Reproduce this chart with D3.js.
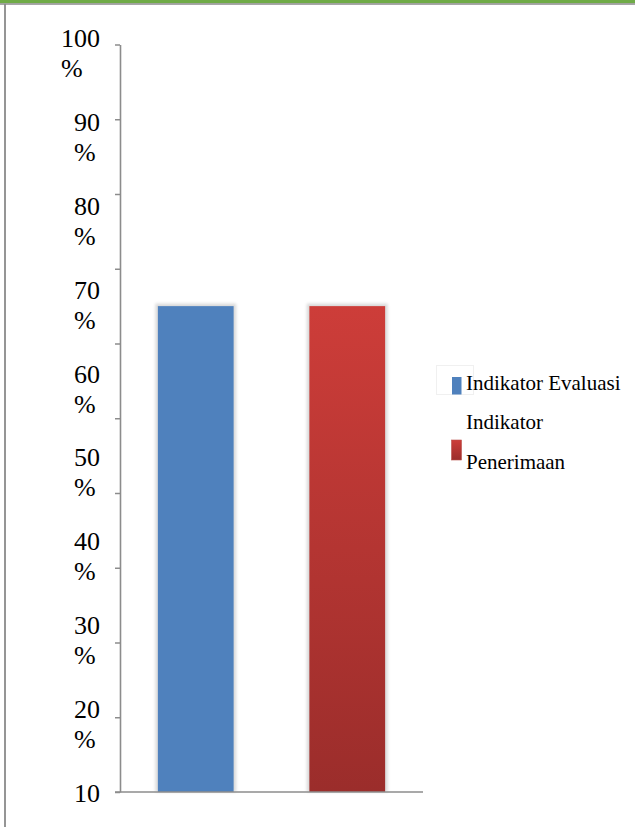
<!DOCTYPE html>
<html>
<head>
<meta charset="utf-8">
<script src="https://cdn.jsdelivr.net/npm/d3@7"></script>
<style>
  html, body { margin: 0; padding: 0; background: #ffffff; }
  svg { display: block; }
  svg text { font-family: "Liberation Serif", "Times New Roman", Tinos, "DejaVu Serif", serif; }
</style>
</head>
<body>
<script>
// Chart data
const categories = ["Indikator Evaluasi", "Indikator Penerimaan"];
const values = [65, 65];
const tickValues = [0, 10, 20, 30, 40, 50, 60, 70, 80, 90, 100];
const tickLabels = ["10", "20 %", "30 %", "40 %", "50 %", "60 %", "70 %", "80 %", "90 %", "100 %"];
const legendLines = [["Indikator Evaluasi"], ["Indikator", "Penerimaan"]];

const W = 635, H = 827;
const svg = d3.select("body").append("svg").attr("width", W).attr("height", H);

const defs = svg.append("defs");
const grad = defs.append("linearGradient").attr("id", "redGrad")
  .attr("x1", 0).attr("y1", 0).attr("x2", 0).attr("y2", 1);
grad.append("stop").attr("offset", "0%").attr("stop-color", "#cd3d39");
grad.append("stop").attr("offset", "100%").attr("stop-color", "#9b2d2b");
const glow = defs.append("filter").attr("id", "glow")
  .attr("x", "-20%").attr("y", "-20%").attr("width", "140%").attr("height", "140%");
glow.append("feGaussianBlur").attr("stdDeviation", 1.6);

const fills = ["#4f81bd", "url(#redGrad)"];

// Page frame: green rule on top, grey rule on the left
svg.append("rect").attr("x", 0).attr("y", 0).attr("width", W).attr("height", 3.2).attr("fill", "#6fab47");
svg.append("line").attr("x1", 0).attr("x2", W).attr("y1", 4).attr("y2", 4)
  .attr("stroke", "#8a8a8a").attr("stroke-width", 1.5);
svg.append("line").attr("x1", 5).attr("x2", 5).attr("y1", 4).attr("y2", H)
  .attr("stroke", "#8a8a8a").attr("stroke-width", 1.8);

// Scales
const x = d3.scaleBand().domain(categories).range([120, 423]).paddingInner(0.5).paddingOuter(0.25);
const y = d3.scaleLinear().domain([0, 100]).range([792, 44.5]);
const labelY = d3.scalePoint().domain(tickLabels).range([802, 47]);

// Bars with a soft light halo
const bars = svg.append("g");
bars.selectAll("rect.halo").data(categories).join("rect")
  .attr("class", "halo")
  .attr("x", d => x(d) - 2.5)
  .attr("y", (d, i) => y(values[i]) - 2.5)
  .attr("width", x.bandwidth() + 5)
  .attr("height", (d, i) => y(0) - y(values[i]) + 2.5)
  .attr("fill", "#d9d9d9")
  .attr("filter", "url(#glow)");
bars.selectAll("rect.bar").data(categories).join("rect")
  .attr("class", "bar")
  .attr("x", d => x(d))
  .attr("y", (d, i) => y(values[i]))
  .attr("width", x.bandwidth())
  .attr("height", (d, i) => y(0) - y(values[i]))
  .attr("fill", (d, i) => fills[i]);

// Y axis with tick marks only
const yAxis = svg.append("g").attr("transform", "translate(120,0)")
  .call(d3.axisLeft(y).tickValues(tickValues).tickSize(5).tickSizeOuter(0).tickFormat(""));
yAxis.select(".domain").attr("stroke", "#8c8c8c").attr("stroke-width", 1.6);
yAxis.selectAll(".tick line").attr("stroke", "#8c8c8c").attr("stroke-width", 1.5);

// X axis baseline
const xAxis = svg.append("g").attr("transform", "translate(0,792)")
  .call(d3.axisBottom(x).tickSize(0).tickFormat(""));
xAxis.select(".domain").attr("stroke", "#8c8c8c").attr("stroke-width", 1.6)
  .attr("d", "M115,0H423");

// Y labels, wrapped over two lines and right-aligned as a block
const labG = svg.append("g").attr("font-size", 26).attr("fill", "#000");
tickLabels.forEach(lbl => {
  const parts = lbl.split(" ");
  const t = labG.append("text").attr("y", labelY(lbl));
  const first = t.append("tspan").text(parts[0]);
  const w = first.node().getComputedTextLength();
  const left = 100 - w;
  first.attr("x", left);
  if (parts[1]) {
    t.append("tspan").attr("x", left).attr("dy", 30).text(parts[1]);
  }
});

// Legend
const lg = svg.append("g").attr("font-size", 21).attr("fill", "#000");
lg.append("rect").attr("x", 436.5).attr("y", 365.5).attr("width", 37).attr("height", 29)
  .attr("fill", "none").attr("stroke", "#f0f0f0").attr("stroke-width", 1);
const swatches = [{ x: 452, y: 377, w: 9.5, h: 17.5 }, { x: 451.5, y: 440, w: 10, h: 20 }];
const legendBase = [[389.5], [429, 468.5]];
legendLines.forEach((lines, i) => {
  const s = swatches[i];
  lg.append("rect").attr("x", s.x).attr("y", s.y).attr("width", s.w).attr("height", s.h)
    .attr("fill", fills[i]).attr("stroke", i === 1 ? "#b9504c" : "none").attr("stroke-width", 0.6);
  lines.forEach((ln, j) => {
    lg.append("text").attr("x", 466).attr("y", legendBase[i][j]).text(ln);
  });
});
</script>
</body>
</html>
